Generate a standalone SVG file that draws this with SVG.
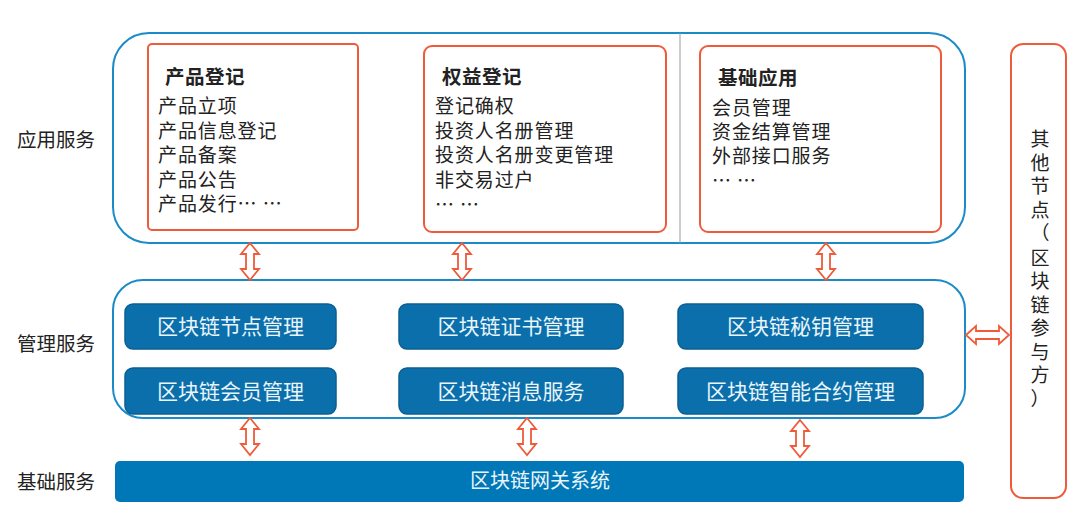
<svg xmlns="http://www.w3.org/2000/svg" xmlns:xlink="http://www.w3.org/1999/xlink" width="1080" height="528" viewBox="0 0 1080 528">
<style>
  text { font-family: "Noto Sans CJK SC", "Noto Sans", sans-serif; fill: #222; }
  .lbl { font-size: 19.5px; }
  .title { font-size: 19.5px; font-weight: bold; letter-spacing: 0.5px; }
  .item { font-size: 19px; letter-spacing: 0.9px; }
  .cont { fill: #fff; stroke: #1b8bc8; stroke-width: 2; }
  .red { fill: #fff; stroke: #ef5b3a; stroke-width: 2; }
  .btn { fill: #0b6fab; stroke: #0a5f93; stroke-width: 1.5; }
  .btxt { font-size: 21px; fill: #eaf5fb; text-anchor: middle; }
  .arr { fill: #fff; stroke: #ef5b3a; stroke-width: 1.8; stroke-linejoin: miter; }
</style>
<defs>
  <path id="va" class="arr" d="M0,0 L9,11 L4,11 L4,26 L9,26 L0,37 L-9,26 L-4,26 L-4,11 L-9,11 Z"/>
  <path id="ha" class="arr" d="M0,0 L10,-9 L10,-4 L33,-4 L33,-9 L43,0 L33,9 L33,4 L10,4 L10,9 Z"/>
</defs>
<rect width="1080" height="528" fill="#fff"/>

<g id="labels">
  <text class="lbl" x="17" y="147">应用服务</text>
  <text class="lbl" x="17" y="351">管理服务</text>
  <text class="lbl" x="17" y="489">基础服务</text>
</g>

<g id="app-services">
  <rect class="cont" x="113" y="33" width="852" height="210" rx="36"/>
  <line x1="680" y1="33" x2="680" y2="243" stroke="#999" stroke-width="1"/>
</g>

<g id="product-reg">
  <rect class="red" x="148" y="44" width="210" height="186" rx="4"/>
  <text class="title" x="165" y="84">产品登记</text>
  <text class="item" x="158" y="113">产品立项</text>
  <text class="item" x="158" y="137.5">产品信息登记</text>
  <text class="item" x="158" y="162">产品备案</text>
  <text class="item" x="158" y="186.5">产品公告</text>
  <text class="item" x="158" y="211">产品发行… …</text>
</g>

<g id="rights-reg">
  <rect class="red" x="424" y="46" width="242" height="186" rx="8"/>
  <text class="title" x="442" y="84">权益登记</text>
  <text class="item" x="435" y="113">登记确权</text>
  <text class="item" x="435" y="138">投资人名册管理</text>
  <text class="item" x="435" y="162">投资人名册变更管理</text>
  <text class="item" x="435" y="187">非交易过户</text>
  <text class="item" x="435" y="212">… …</text>
</g>

<g id="basic-app">
  <rect class="red" x="700" y="46" width="241" height="186" rx="8"/>
  <text class="title" x="718" y="85">基础应用</text>
  <text class="item" x="712" y="115">会员管理</text>
  <text class="item" x="712" y="139">资金结算管理</text>
  <text class="item" x="712" y="163">外部接口服务</text>
  <text class="item" x="712" y="188">… …</text>
</g>

<g id="mgmt-services">
  <rect class="cont" x="113" y="280" width="852" height="138" rx="30"/>
</g>
<g id="node-mgmt"><rect class="btn" x="125" y="304" width="211" height="45" rx="8"/><text class="btxt" x="230.5" y="334">区块链节点管理</text></g>
<g id="cert-mgmt"><rect class="btn" x="399" y="304" width="224" height="45" rx="8"/><text class="btxt" x="511" y="334">区块链证书管理</text></g>
<g id="key-mgmt"><rect class="btn" x="678" y="304" width="245" height="45" rx="8"/><text class="btxt" x="800.5" y="334">区块链秘钥管理</text></g>
<g id="member-mgmt"><rect class="btn" x="125" y="368" width="211" height="46" rx="8"/><text class="btxt" x="230.5" y="399">区块链会员管理</text></g>
<g id="msg-service"><rect class="btn" x="399" y="368" width="224" height="46" rx="8"/><text class="btxt" x="511" y="399">区块链消息服务</text></g>
<g id="contract-mgmt"><rect class="btn" x="678" y="368" width="245" height="46" rx="8"/><text class="btxt" x="800.5" y="399">区块链智能合约管理</text></g>

<g id="gateway">
  <rect x="115" y="461" width="849" height="41" rx="5" fill="#0077b6"/>
  <text class="btxt" x="540" y="488" style="font-size:20px">区块链网关系统</text>
</g>

<g id="other-nodes">
  <rect class="red" x="1011" y="44" width="55" height="454" rx="12"/>
  <text style="font-size:19px" text-anchor="middle"><tspan x="1040" y="146">其</tspan><tspan x="1040" y="169.5">他</tspan><tspan x="1040" y="193">节</tspan><tspan x="1040" y="216.5">点</tspan><tspan x="1040" y="240">（</tspan><tspan x="1040" y="264.5">区</tspan><tspan x="1040" y="288">块</tspan><tspan x="1040" y="311.5">链</tspan><tspan x="1040" y="335">参</tspan><tspan x="1040" y="358.5">与</tspan><tspan x="1040" y="382">方</tspan><tspan x="1040" y="406">）</tspan></text>
</g>

<g id="connectors">
  <use xlink:href="#va" x="250" y="243"/>
  <use xlink:href="#va" x="462" y="243"/>
  <use xlink:href="#va" x="826" y="243"/>
  <use xlink:href="#va" x="250" y="418"/>
  <use xlink:href="#va" x="527" y="418"/>
  <use xlink:href="#va" x="800" y="420"/>
  <use xlink:href="#ha" x="966" y="335"/>
</g>
</svg>
